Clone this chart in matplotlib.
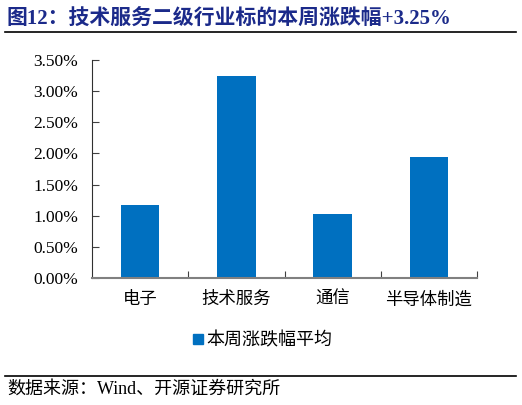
import matplotlib
matplotlib.use("Agg")
import matplotlib.pyplot as plt
from matplotlib.ticker import PercentFormatter, MultipleLocator
from matplotlib.lines import Line2D

categories = ["电子", "技术服务", "通信", "半导体制造"]
values = [1.17, 3.25, 1.02, 1.94]
series_name = "本周涨跌幅平均"
title = "图12：技术服务二级行业标的本周涨跌幅+3.25%"
source = "数据来源：Wind、开源证券研究所"

FAM = ["Liberation Serif", "Noto Sans CJK SC", "DejaVu Sans"]
plt.rcParams["font.family"] = FAM

fig = plt.figure(figsize=(5.22, 4.05), dpi=100)
ax = fig.add_axes([92/522, 1-278/405, (477-92)/522, (278-60)/405])

bar_color = "#0070C0"
x = list(range(len(categories)))
ax.bar(x, values, width=0.4, color=bar_color, label=series_name, zorder=2)

ax.set_xlim(-0.5, len(categories) - 0.5)
ax.set_ylim(0, 3.5)
ax.yaxis.set_major_locator(MultipleLocator(0.5))
ax.yaxis.set_major_formatter(PercentFormatter(decimals=2))

ax.set_xticks([i + 0.5 for i in x][:-1] + [len(categories) - 0.5])
ax.set_xticklabels([])
ax.set_xticks(x, minor=True)
ax.set_xticklabels(categories, minor=True, fontsize=12.5)
ax.tick_params(axis="x", which="minor", length=0, pad=10)
ax.tick_params(axis="x", which="major", direction="in", length=5, color="#404040")
ax.tick_params(axis="y", direction="in", length=5, color="#404040", labelsize=12.5, pad=10)

for s in ["top", "right"]:
    ax.spines[s].set_visible(False)
ax.spines["left"].set_color("#303030")
ax.spines["bottom"].set_color("#808080")
ax.spines["bottom"].set_linewidth(1.5)

leg = fig.legend(handles=[Line2D([], [], marker="s", color="none", markerfacecolor=bar_color,
                                  markeredgecolor=bar_color, markersize=7, label=series_name)],
                 loc="center", bbox_to_anchor=(262/522, 1-341/405), frameon=False,
                 fontsize=13, handletextpad=0.1, handlelength=0.7)

fig.text(7/522, 1-19/405, title, fontsize=15, fontweight="bold", color="#1B2A8A",
         va="center", ha="left")
fig.add_artist(Line2D([5/522, 516/522], [1-32/405, 1-32/405], color="black", lw=1.2))
fig.add_artist(Line2D([5/522, 516/522], [1-376/405, 1-376/405], color="black", lw=1.2))
fig.text(7/522, 1-389/405, source, fontsize=13, color="black", va="center", ha="left")

fig.savefig("out.png", dpi=100)
